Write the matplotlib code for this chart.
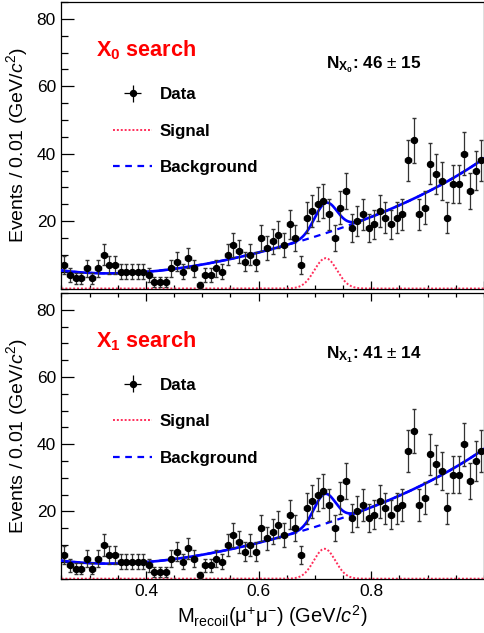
import matplotlib
matplotlib.use('Agg')
import matplotlib.pyplot as plt
import numpy as np
from matplotlib.ticker import MultipleLocator, FixedLocator

plt.rcParams['font.family'] = ['Liberation Sans', 'DejaVu Sans']
plt.rcParams['mathtext.fontset'] = 'custom'
plt.rcParams['mathtext.rm'] = 'Liberation Sans'
plt.rcParams['mathtext.it'] = 'Liberation Sans:italic'
plt.rcParams['mathtext.bf'] = 'Liberation Sans:bold'

# recoil mass bins, 0.01 GeV/c^2 wide
bin_lo = 0.25
bin_w = 0.01
counts = [7, 4, 3, 3, 6, 3, 6, 10, 7, 7,
          5, 5, 5, 5, 5, 4, 2, 2, 2, 6,
          8, 5, 9, 6, 1, 4, 4, 6, 5, 10,
          13, 11, 8, 10, 8, 15, 12, 14, 16, 13,
          19, 15, 7, 21, 23, 25, 26, 22, 15, 24,
          29, 18, 20, 22, 18, 19, 23, 21, 19, 21,
          22, 38, 44, 22, 24, 37, 34, 32, 21, 31,
          31, 40, 29, 35, 38]

# background shape (same in both panels)
bkg_x = [0.25, 0.30, 0.35, 0.40, 0.45, 0.50, 0.55, 0.60,
         0.65, 0.70, 0.75, 0.80, 0.85, 0.90, 0.95, 1.00]
bkg_y = [5.2, 4.9, 4.7, 4.8, 5.5, 7.0, 8.8, 10.9,
         13.2, 15.5, 18.0, 21.0, 24.4, 29.0, 33.5, 38.4]

# signal peaks: (peak height, mean, sigma)
sig_x0 = (9.0, 0.719, 0.020)
sig_x1 = (8.9, 0.717, 0.019)

titles = ['X$_\\mathbf{0}$ search', 'X$_\\mathbf{1}$ search']
yields = ['N$_{\\mathbf{X_0}}$: 46 $\\pm$ 15', 'N$_{\\mathbf{X_1}}$: 41 $\\pm$ 14']

centers = bin_lo + bin_w * (np.arange(len(counts)) + 0.5)
counts = np.array(counts, dtype=float)
errs = np.sqrt(counts)

coef = np.polyfit(bkg_x, bkg_y, 5)
xx = np.linspace(0.25, 1.0, 600)
bkg = np.polyval(coef, xx)

fig = plt.figure(figsize=(4.85, 6.33), dpi=100)
ax_top = fig.add_axes([0.1268, 0.5442, 0.8711, 0.4526])
ax_bot = fig.add_axes([0.1268, 0.0858, 0.8711, 0.4513])

for i, (ax, sp) in enumerate(zip([ax_top, ax_bot], [sig_x0, sig_x1])):
    amp, mu, sg = sp
    sig = amp * np.exp(-0.5 * ((xx - mu) / sg) ** 2)

    ax.plot(xx, sig, color='#ff2d5a', ls=(0, (1, 1)), lw=1.4, zorder=2)
    ax.plot(xx, bkg, color='#0000ff', ls=(0, (3, 2.5)), lw=1.6, zorder=3)
    ax.plot(xx, bkg + sig, color='#0000ff', lw=1.9, zorder=4)
    ax.errorbar(centers, counts, yerr=errs, xerr=bin_w / 2, fmt='o', color='black',
                ecolor='#333333', elinewidth=0.9, capsize=1.2, markersize=4.3,
                zorder=5)

    ax.set_xlim(0.25, 1.0)
    ax.set_ylim(0, 85)
    ax.yaxis.set_major_locator(FixedLocator([20, 40, 60, 80]))
    ax.yaxis.set_minor_locator(MultipleLocator(5))
    ax.xaxis.set_major_locator(MultipleLocator(0.2))
    ax.xaxis.set_minor_locator(MultipleLocator(0.05))
    ax.tick_params(which='both', direction='in', top=(i == 1), right=False,
                   labelsize=12.5, pad=4, width=0.9, color='black')
    ax.tick_params(axis='y', which='major', length=9)
    ax.tick_params(axis='y', which='minor', length=5)
    ax.tick_params(axis='x', which='major', length=6)
    ax.tick_params(axis='x', which='minor', length=3)
    for s in ax.spines.values():
        s.set_linewidth(0.9)
    ax.set_ylabel('Events / 0.01 (GeV/$\\it{c}^{2}$)', fontsize=14, labelpad=5)

    ax.text(0.0817, 0.81, titles[i], transform=ax.transAxes, color='red',
            fontsize=15.6, fontweight='bold', va='baseline', ha='left')
    ax.text(0.625, 0.77, yields[i], transform=ax.transAxes, color='black',
            fontsize=12.3, fontweight='bold', va='baseline', ha='left')

    h_data = ax.errorbar([], [], yerr=[], xerr=[], fmt='o', color='black',
                         ecolor='black', elinewidth=0.9, markersize=4.3)
    h_sig, = ax.plot([], [], color='#ff2d5a', ls=(0, (1, 1)), lw=1.4)
    h_bkg, = ax.plot([], [], color='#0000ff', ls=(0, (3, 2.5)), lw=1.6)
    leg = ax.legend([h_data, h_sig, h_bkg], ['Data', 'Signal', 'Background'],
                    loc='upper left', bbox_to_anchor=(0.122, 0.703), frameon=False,
                    borderpad=0, borderaxespad=0, handlelength=2.3,
                    handletextpad=0.47, labelspacing=1.27,
                    prop={'weight': 'bold', 'size': 12.2})

ax_top.tick_params(labelbottom=False)
ax_bot.set_xticks([0.4, 0.6, 0.8])
ax_bot.set_xticklabels(['0.4', '0.6', '0.8'])
ax_bot.xaxis.set_minor_locator(MultipleLocator(0.05))
ax_bot.set_xlabel('M$_{\\rm recoil}$(\u03bc$^{+}$\u03bc$^{-}$) (GeV/$\\it{c}^{2}$)',
                  fontsize=14.5, labelpad=3)

fig.savefig('out.png', dpi=100)
